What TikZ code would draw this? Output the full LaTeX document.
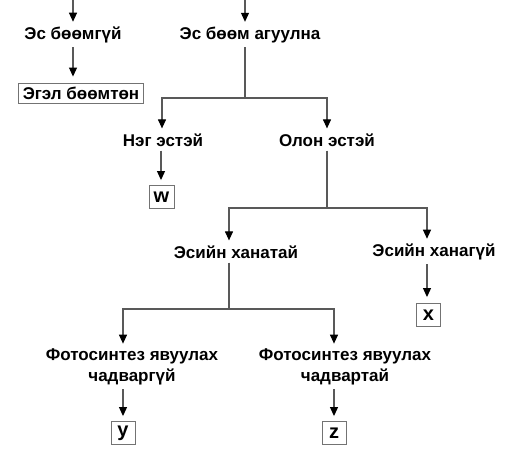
\documentclass[tikz,border=0pt]{standalone}
\usepackage{fontspec}
\setmainfont{Liberation Sans}
\usetikzlibrary{arrows.meta}
\begin{document}
\begin{tikzpicture}[x=1pt,y=-1pt,
  lbl/.style={font=\bfseries\fontsize{17}{21}\selectfont, inner sep=4pt, align=center},
  bx/.style={draw=black!55, line width=0.9pt, fill=white, font=\bfseries\fontsize{17}{20}\selectfont, inner xsep=4pt, inner ysep=2pt, minimum height=20pt},
  sbx/.style={bx, font=\bfseries\fontsize{20}{22}\selectfont, minimum height=23pt, minimum width=24pt, inner sep=1pt},
  ln/.style={draw=black!65, line width=1.1pt},
  arr/.style={ln, -{Triangle[width=8pt,length=9pt,color=black]}, shorten >=1pt}]
\useasboundingbox (0,0) rectangle (517,456);
\fill[white] (0,0) rectangle (517,456);
\coordinate (t1) at (73,0);
\coordinate (t2) at (245,0);
\node[lbl] (a) at (73,35) {Эс бөөмгүй};
\node[lbl] (b) at (250,35) {Эс бөөм агуулна};
\node[bx] (c) at (81,93) {Эгэл бөөмтөн};
\node[lbl] (d) at (163,140) {Нэг эстэй};
\node[lbl] (e) at (327,140) {Олон эстэй};
\node[sbx, minimum width=25pt] (w) at (161.5,197) {w};
\node[lbl] (f) at (236,252) {Эсийн ханатай};
\node[lbl] (g) at (434,252) {Эсийн ханагүй};
\node[sbx] (x) at (428.5,315) {x};
\node[lbl] (h) at (132,367) {Фотосинтез явуулах\\чадваргүй};
\node[lbl] (i) at (345,367) {Фотосинтез явуулах\\чадвартай};
\node[sbx] (y) at (123,433) {y};
\node[sbx] (z) at (334,433) {z};
\coordinate (j1) at (245,98);
\coordinate (j2) at (327,208);
\coordinate (j3) at (229,309);
% connectors
\draw[arr] (t1) -- (t1 |- a.north);
\draw[arr] (t2) -- (t2 |- b.north);
\draw[arr, shorten >=6pt] (a.south) -- (a.south |- c.north);
\draw[ln] (j1 |- b.south) -- (j1);
\draw[arr] (j1) -| ([xshift=-1pt]d.north);
\draw[arr] (j1) -| (e.north);
\draw[arr, shorten >=5pt] ([xshift=-2pt]d.south) -- ([xshift=-2pt]d.south |- w.north);
\draw[ln] (e.south) -- (j2);
\draw[arr] (j2) -| ([xshift=-7pt]f.north);
\draw[arr] (j2) -| ([xshift=-7pt]g.north);
\draw[arr, shorten >=6pt] ([xshift=-7pt]g.south) -- ([xshift=-7pt]g.south |- x.north);
\draw[ln] (j3 |- f.south) -- (j3);
\draw[arr] (j3) -| ([xshift=-9pt]h.north);
\draw[arr] (j3) -| ([xshift=-11pt]i.north);
\draw[arr, shorten >=5pt] ([xshift=-9pt]h.south) -- ([xshift=-9pt]h.south |- y.north);
\draw[arr, shorten >=5pt] ([xshift=-11pt]i.south) -- ([xshift=-11pt]i.south |- z.north);
\end{tikzpicture}
\end{document}
